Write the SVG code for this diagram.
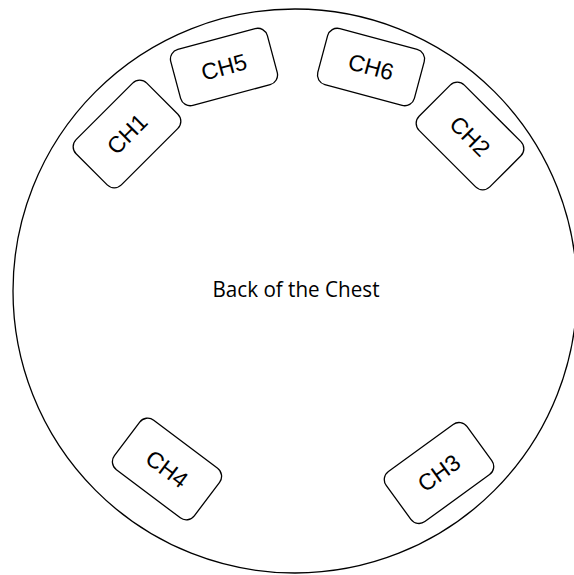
<svg xmlns="http://www.w3.org/2000/svg" width="574" height="575" viewBox="0 0 574 575">
  <style>
    .outline { fill: #ffffff; stroke: #000000; stroke-width: 1.3; }
    .box { fill: #ffffff; stroke: #000000; stroke-width: 1.3; }
    .lbl { font-family: "Liberation Sans", Arial, sans-serif; font-size: 23px; fill: #000000; text-anchor: middle; dominant-baseline: central; }
    .title { font-family: "Open Sans", "Noto Sans", sans-serif; font-size: 21px; fill: #000000; text-anchor: middle; }
  </style>
  <rect x="0" y="0" width="574" height="575" fill="#ffffff"/>

  <!-- chest outline -->
  <g id="chest">
    <circle class="outline" cx="295" cy="291" r="282"/>
    <text class="title" x="296" y="297" textLength="167" lengthAdjust="spacingAndGlyphs">Back of the Chest</text>
  </g>

  <!-- electrode channels -->
  <g id="ch1" transform="translate(127,134) rotate(-45)">
    <rect class="box" x="-50" y="-32" width="100" height="64" rx="10"/>
    <text class="lbl" x="0" y="0">CH1</text>
  </g>
  <g id="ch5" transform="translate(224,67) rotate(-15)">
    <rect class="box" x="-50" y="-29" width="100" height="58" rx="10"/>
    <text class="lbl" x="0" y="0">CH5</text>
  </g>
  <g id="ch6" transform="translate(371,67) rotate(15)">
    <rect class="box" x="-50" y="-29" width="100" height="58" rx="10"/>
    <text class="lbl" x="0" y="0">CH6</text>
  </g>
  <g id="ch2" transform="translate(470,136) rotate(45)">
    <rect class="box" x="-50" y="-32" width="100" height="64" rx="10"/>
    <text class="lbl" x="0" y="0">CH2</text>
  </g>
  <g id="ch4" transform="translate(167,469) rotate(37)">
    <rect class="box" x="-50" y="-31" width="100" height="62" rx="10"/>
    <text class="lbl" x="0" y="0">CH4</text>
  </g>
  <g id="ch3" transform="translate(439,473) rotate(-36)">
    <rect class="box" x="-50" y="-31" width="100" height="62" rx="10"/>
    <text class="lbl" x="0" y="0">CH3</text>
  </g>

  <g id="connectors"/>
</svg>
